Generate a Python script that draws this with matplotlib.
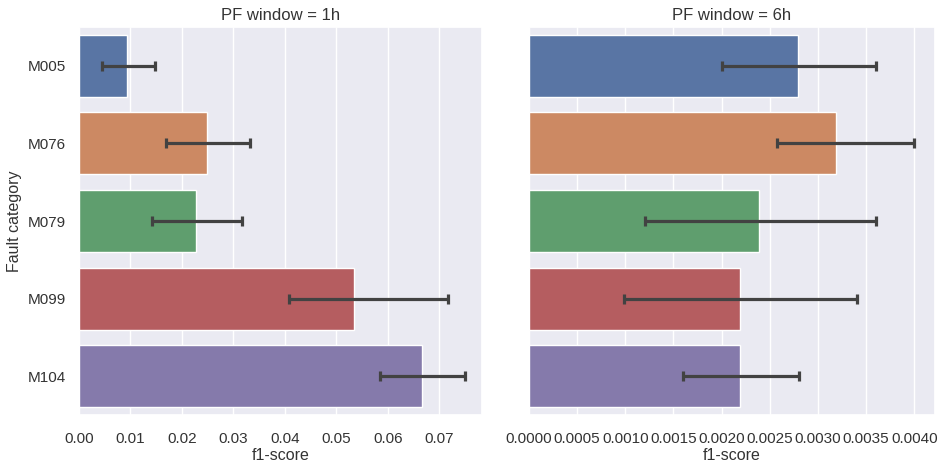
import matplotlib
matplotlib.use("Agg")
import matplotlib.pyplot as plt
import seaborn as sns
import numpy as np

# f1-score por categoria de falha, para cada janela de PF
categorias = ["M005", "M076", "M079", "M099", "M104"]

f1_1h = [0.0094, 0.0249, 0.0227, 0.0535, 0.0667]
ic_inf_1h = [0.0045, 0.0170, 0.0141, 0.0408, 0.0585]
ic_sup_1h = [0.0148, 0.0333, 0.0317, 0.0716, 0.0750]

f1_6h = [0.00279, 0.00319, 0.00239, 0.00219, 0.00219]
ic_inf_6h = [0.00200, 0.00257, 0.00120, 0.00099, 0.00160]
ic_sup_6h = [0.00360, 0.00400, 0.00360, 0.00341, 0.00280]

janelas = ["1h", "6h"]

sns.set_theme(style="darkgrid")
plt.rcParams['font.family'] = ['Liberation Sans', 'DejaVu Sans']

cores = [sns.desaturate(c, 0.75) for c in sns.color_palette("deep", 5)]

fig = plt.figure(figsize=(9.38, 4.62), dpi=100)
ax1 = fig.add_axes([79 / 938, 47 / 462, 403 / 938, 388 / 462])
ax2 = fig.add_axes([529 / 938, 47 / 462, 406 / 938, 388 / 462], sharey=ax1)

dados = [(ax1, f1_1h, ic_inf_1h, ic_sup_1h, 0.0783),
         (ax2, f1_6h, ic_inf_6h, ic_sup_6h, 0.004215)]

pos = np.arange(len(categorias))
for (ax, f1, inf, sup, xmax), janela in zip(dados, janelas):
    ax.barh(pos, f1, height=0.8, color=cores, edgecolor="white", linewidth=1, zorder=2)
    f1 = np.array(f1)
    erro = [f1 - np.array(inf), np.array(sup) - f1]
    ax.errorbar(f1, pos, xerr=erro, fmt="none", ecolor="#424242",
                elinewidth=2.3, capsize=3.6, capthick=2.3, zorder=3)
    ax.set_xlim(0, xmax)
    ax.set_title(f"PF window = {janela}", fontsize=12, color=".2", pad=5)
    ax.set_xlabel("f1-score", fontsize=11.5, color=".2", labelpad=2)
    ax.yaxis.grid(False)
    ax.tick_params(labelsize=11, colors=".2")
    ax.tick_params(axis="x", pad=6)

ax1.set_ylim(4.5, -0.5)
ax1.set_yticks(pos)
ax1.set_yticklabels(categorias)
ax1.set_ylabel("Fault category", fontsize=11.5, color=".2")
ax2.tick_params(axis="y", labelleft=False)
ax2.set_xticks(np.arange(0, 0.00401, 0.0005))
ax2.xaxis.set_major_formatter(matplotlib.ticker.FormatStrFormatter("%.4f"))
ax1.set_xticks(np.arange(0, 0.0701, 0.01))
ax1.xaxis.set_major_formatter(matplotlib.ticker.FormatStrFormatter("%.2f"))

fig.savefig("out.png", dpi=100)
